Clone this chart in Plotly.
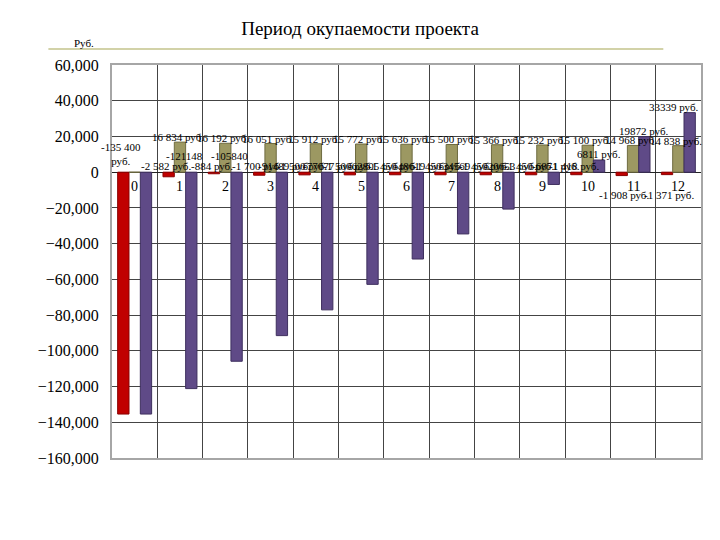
import plotly.graph_objects as go

years = list(range(13))
# red: outflows / investments
outflow = [-135400, -2582, -884, -1700, -1500, -1500, -1450, -1450, -1450, -1450, -1418, -1908, -1371]
# olive: inflows
inflow = [0, 16834, 16192, 16051, 15912, 15772, 15636, 15500, 15366, 15232, 15100, 14968, 14838]
# purple: cumulative
cumulative = [-135400, -121148, -105840, -91489, -77077, -62805, -48619, -34569, -20653, -6871, 6811, 19872, 33339]

RED = "#c00000"
OLIVE = "#9c9862"
PURPLE = "#5f4a87"
FONT = "Liberation Serif"

def rub(v):
    s = f"{abs(v):,}".replace(",", " ")
    return ("-" if v < 0 else "") + s + " руб."

fig = go.Figure()
fig.add_trace(go.Bar(x=years, y=outflow, width=0.25, offset=-0.375, marker=dict(color=RED, line=dict(color="#8a0000", width=1))))
fig.add_trace(go.Bar(x=years, y=inflow, width=0.25, offset=-0.125, marker=dict(color=OLIVE, line=dict(color="#6e6b40", width=1))))
fig.add_trace(go.Bar(x=years, y=cumulative, width=0.25, offset=0.125, marker=dict(color=PURPLE, line=dict(color="#3e2f5e", width=1))))

ann = []
lf = dict(family=FONT, size=11, color="black")
for i, y in enumerate(years):
    ann.append(dict(x=y, y=0, text=str(y), showarrow=False, yanchor="top", yshift=-5,
                    font=dict(family=FONT, size=14, color="black")))
    if i == 0:
        ann.append(dict(x=y - 0.3, y=0, text="-135 400<br>руб.", showarrow=False, yanchor="bottom", yshift=3, font=lf))
    elif i >= 11:
        ann.append(dict(x=y - 0.2, y=0, text=rub(outflow[i]), showarrow=False, yanchor="top", yshift=-15, font=lf))
    else:
        ann.append(dict(x=y - 0.3, y=0, text=rub(outflow[i]), showarrow=False, yanchor="bottom", yshift=-2, font=lf))
    if i >= 1:
        ann.append(dict(x=y - 0.05, y=inflow[i], text=rub(inflow[i]), showarrow=False, yanchor="bottom", yshift=-3, font=lf))
    if i in (1, 2):
        ann.append(dict(x=y + 0.1, y=0, text=f"{cumulative[i]}", showarrow=False, yanchor="bottom", yshift=8, font=lf))
    elif 3 <= i <= 9:
        ann.append(dict(x=y + 0.3, y=0, text=f"{cumulative[i]} руб.", showarrow=False, yanchor="bottom", yshift=-2, font=lf))
    elif i == 12:
        ann.append(dict(x=y + 0.5, y=cumulative[i], text=f"{cumulative[i]} руб.", showarrow=False, xanchor="right",
                        yanchor="bottom", yshift=-2, font=lf))
    elif i >= 10:
        ann.append(dict(x=y + 0.25, y=cumulative[i], text=f"{cumulative[i]} руб.", showarrow=False, yanchor="bottom", yshift=-2, font=lf))

ann.append(dict(xref="paper", yref="paper", x=-0.048, y=1.035, text="Руб.", showarrow=False,
                xanchor="center", yanchor="bottom", font=dict(family=FONT, size=11, color="black")))

W, H = 704, 524
fig.update_layout(
    width=W, height=H,
    margin=dict(l=104, r=9, t=57, b=74),
    paper_bgcolor="white", plot_bgcolor="white",
    showlegend=False,
    barmode="overlay",
    title=dict(text="Период окупаемости проекта", x=0.5, xanchor="center", y=1 - 20 / H, yanchor="middle",
               font=dict(family=FONT, size=19, color="black")),
    annotations=ann,
    shapes=[dict(type="line", xref="paper", yref="paper", x0=-0.108, x1=0.936, y0=1.041, y1=1.041,
                 line=dict(color="#d2d2a8", width=2))],
    xaxis=dict(range=[-0.5, 12.5], tick0=-0.5, dtick=1, showticklabels=False, ticks="",
               showgrid=True, gridcolor="#444444", gridwidth=1, zeroline=False,
               showline=True, linecolor="#a6a6a6", linewidth=2, mirror=True),
    yaxis=dict(range=[-160000, 60000], dtick=20000, tickformat=",d", showgrid=True,
               gridcolor="#444444", gridwidth=1, zeroline=True, zerolinecolor="#222222", zerolinewidth=1,
               showline=True, linecolor="#a6a6a6", linewidth=2, mirror=True, ticks="",
               tickfont=dict(family=FONT, size=16, color="black"), ticklabelstandoff=8),
)

fig.write_html("out.html")
